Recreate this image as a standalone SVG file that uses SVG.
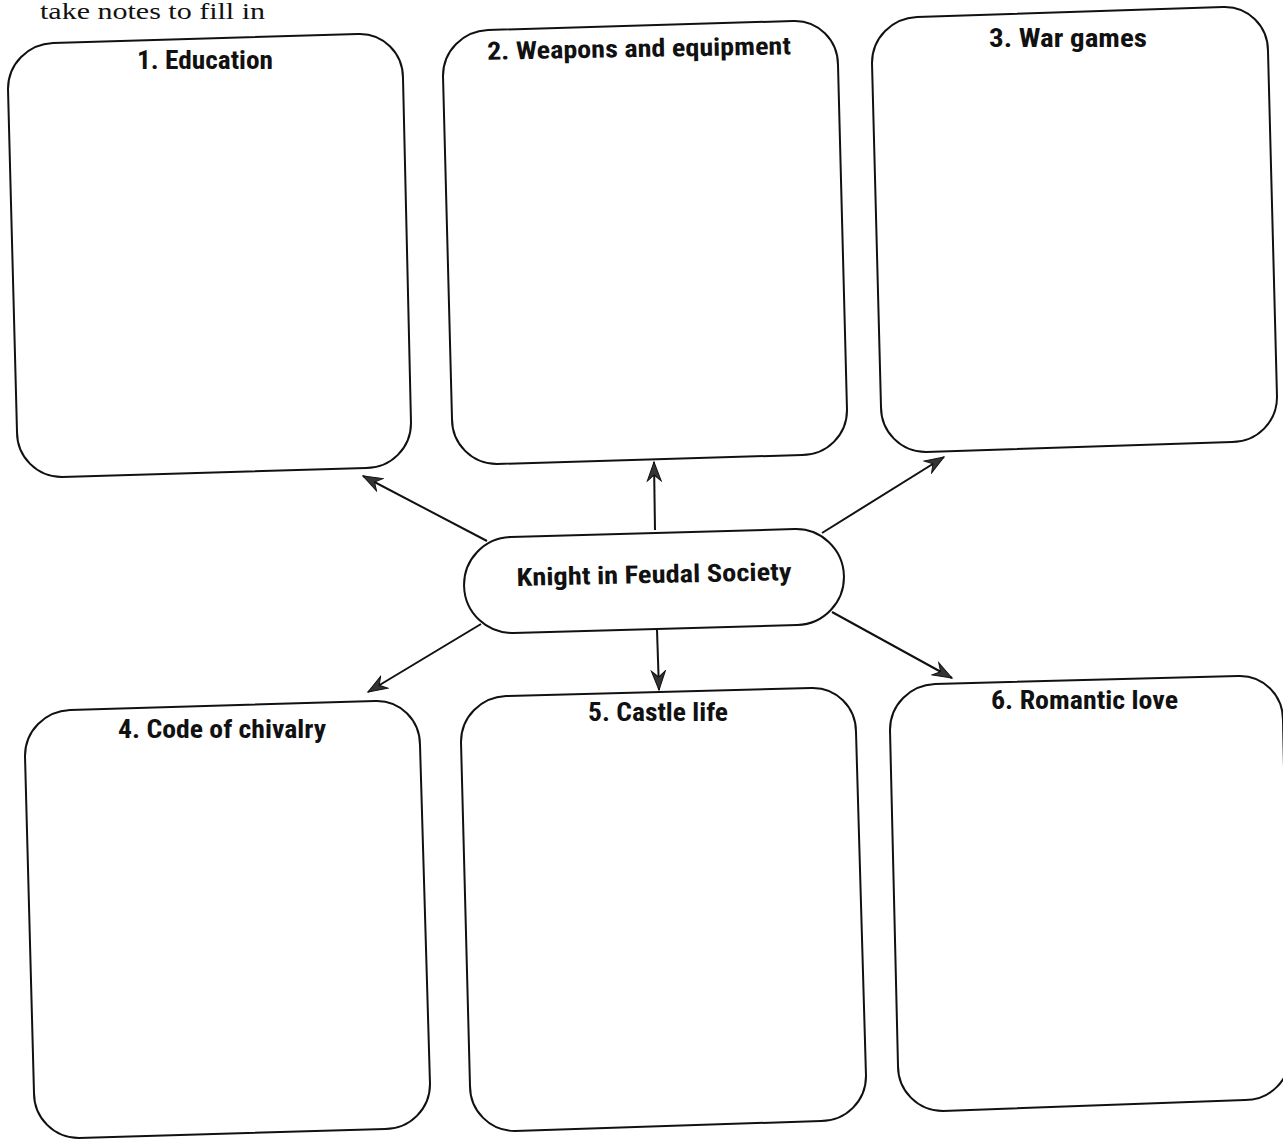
<svg xmlns="http://www.w3.org/2000/svg" width="1283" height="1140" viewBox="0 0 1283 1140">
<style>
.box{fill:none;stroke:#111;stroke-width:2}
.title{font-family:"Liberation Sans Narrow","Roboto Condensed","Liberation Sans",Arial,sans-serif;font-weight:bold;font-size:25px;fill:#111}
.conn{stroke:#111;stroke-width:2;fill:none;marker-end:url(#arr)}
.top{font-family:"Liberation Serif","Times New Roman",serif;font-size:24px;fill:#111}
</style>
<defs>
<marker id="arr" viewBox="-20 -8 22 16" refX="0" refY="0" markerWidth="22" markerHeight="16" markerUnits="userSpaceOnUse" orient="auto">
<path d="M0,0 L-19,-7 L-13,0 L-19,7 Z" fill="#333" stroke="#111" stroke-width="1"/>
</marker>
</defs>
<rect width="1283" height="1140" fill="#fff"/>
<text class="top" x="40" y="19" textLength="225" lengthAdjust="spacingAndGlyphs">take notes to fill in</text>
<g id="connectors">
<line class="conn" x1="487" y1="541" x2="363" y2="476"/>
<line class="conn" x1="655" y1="530" x2="654" y2="462"/>
<line class="conn" x1="822" y1="533" x2="944" y2="457"/>
<line class="conn" x1="481" y1="624" x2="368" y2="692"/>
<line class="conn" x1="657" y1="630" x2="659" y2="690"/>
<line class="conn" x1="832" y1="612" x2="952" y2="678"/>
</g>
<g id="center">
<rect x="464" y="533" width="380" height="96" rx="48" ry="48" fill="#fff" stroke="#111" stroke-width="2" transform="rotate(-1.6 654 581)"/>
<text class="title" x="654" y="583" text-anchor="middle" textLength="275" lengthAdjust="spacingAndGlyphs" transform="rotate(-1.2 654 575)">Knight in Feudal Society</text>
</g>
<g id="box1">
<path class="box" d="M 8,89 C 8,64 28,44 53,43 L 358,34 C 383,33 403,53 403,78 L 411,423 C 411,448 391,468 366,468 L 62,477 C 37,477 17,457 17,432 Z"/>
<text class="title" x="137" y="69" textLength="136" lengthAdjust="spacingAndGlyphs">1. Education</text>
</g>
<g id="box2">
<path class="box" d="M 443,76 C 443,51 463,31 488,30 L 793,21 C 818,20 838,40 838,65 L 847,410 C 847,435 827,455 802,455 L 497,464 C 472,464 452,444 452,419 Z"/>
<text class="title" x="487" y="57" textLength="304" lengthAdjust="spacingAndGlyphs" transform="rotate(-1 639 50)">2. Weapons and equipment</text>
</g>
<g id="box3">
<path class="box" d="M 872,63 C 872,38 892,18 917,17 L 1223,7 C 1248,6 1268,26 1268,51 L 1277,397 C 1277,422 1257,442 1232,442 L 926,452 C 901,452 881,432 881,407 Z"/>
<text class="title" x="989" y="47" textLength="158" lengthAdjust="spacingAndGlyphs">3. War games</text>
</g>
<g id="box4">
<path class="box" d="M 25,756 C 25,731 45,711 70,710 L 375,701 C 400,700 420,720 420,745 L 430,1084 C 430,1109 410,1129 385,1129 L 79,1138 C 54,1138 34,1118 34,1093 Z"/>
<text class="title" x="118" y="738" textLength="208" lengthAdjust="spacingAndGlyphs">4. Code of chivalry</text>
</g>
<g id="box5">
<path class="box" d="M 461,742 C 461,717 481,697 506,696 L 811,688 C 836,687 856,707 856,732 L 866,1076 C 866,1101 846,1121 821,1121 L 515,1131 C 490,1131 470,1111 470,1086 Z"/>
<text class="title" x="588" y="721" textLength="140" lengthAdjust="spacingAndGlyphs">5. Castle life</text>
</g>
<g id="box6">
<path class="box" d="M 890,730 C 890,705 910,685 935,684 L 1238,676 C 1263,675 1283,695 1283,720 L 1290,1055 C 1290,1080 1270,1100 1245,1100 L 943,1111 C 918,1111 898,1091 898,1066 Z"/>
<text class="title" x="991" y="709" textLength="187" lengthAdjust="spacingAndGlyphs">6. Romantic love</text>
</g>
</svg>
